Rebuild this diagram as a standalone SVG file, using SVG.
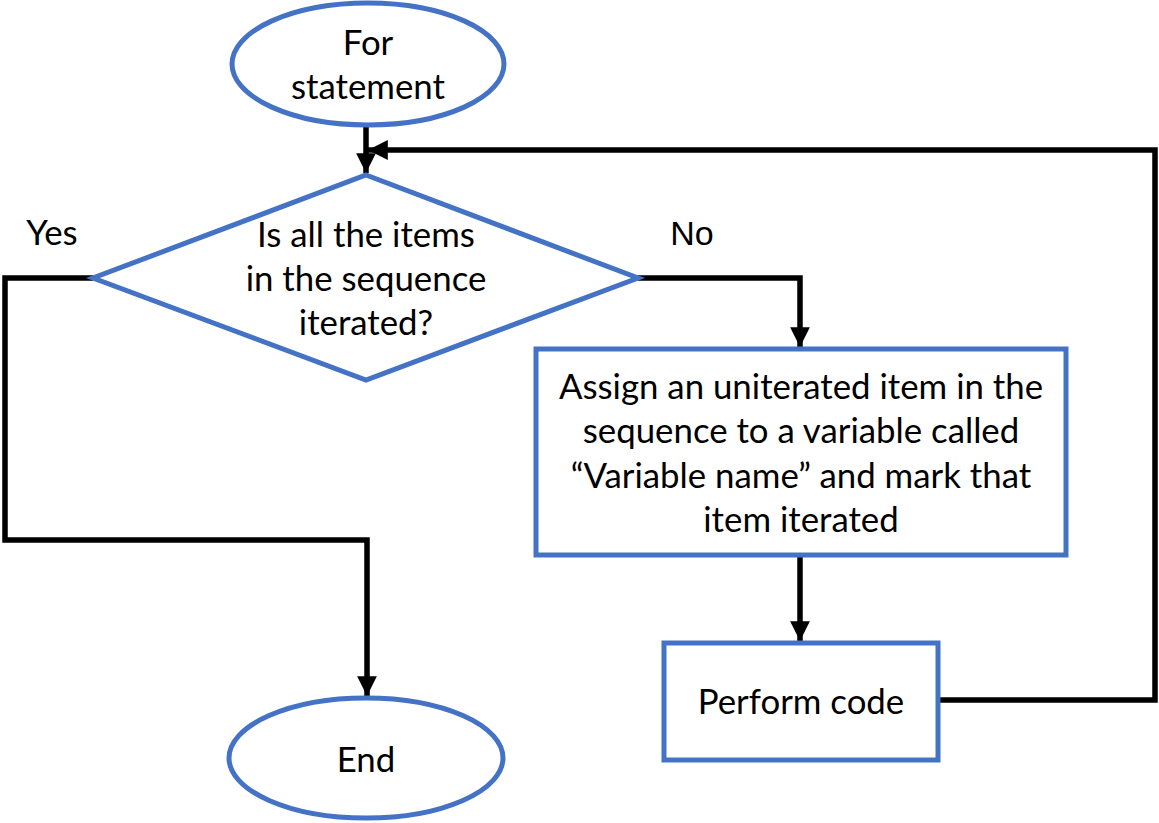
<svg xmlns="http://www.w3.org/2000/svg" width="1159" height="823" viewBox="0 0 1159 823">
<defs>
<marker id="ah" viewBox="0 0 10 10" refX="10" refY="5" markerWidth="3.6" markerHeight="3.6" orient="auto" markerUnits="strokeWidth">
<path d="M0,0 L10,5 L0,10 z" fill="#000"/>
</marker>
<style>
.shape{fill:#fff;stroke:#4472C4;stroke-width:5}
.conn{fill:none;stroke:#000;stroke-width:5.5}
.t{font-family:Lato,"Liberation Sans",sans-serif;font-size:34.8px;fill:#000;text-anchor:middle}
.a{font-family:"Liberation Sans",Arial,sans-serif;font-size:34px;fill:#000;text-anchor:middle}
</style>
</defs>
<rect width="1159" height="823" fill="#fff"/>
<g id="connectors">
<path class="conn" d="M366,125 V173" marker-end="url(#ah)"/>
<path class="conn" d="M938,700 H1155 V150 H368" marker-end="url(#ah)"/>
<path class="conn" d="M93,278 H5 V540 H367 V696" marker-end="url(#ah)"/>
<path class="conn" d="M638,278 H800 V347" marker-end="url(#ah)"/>
<path class="conn" d="M800,555 V641" marker-end="url(#ah)"/>
</g>
<g id="start">
<ellipse class="shape" cx="368" cy="64" rx="136" ry="61"/>
<text class="t" x="368" y="55">For</text>
<text class="t" x="368" y="99">statement</text>
</g>
<g id="decision">
<polygon class="shape" points="366,175 638,278 366,380 93,278"/>
<text class="t" x="366" y="247">Is all the items</text>
<text class="t" x="366" y="291">in the sequence</text>
<text class="t" x="366" y="335">iterated?</text>
</g>
<g id="assign">
<rect class="shape" x="536" y="349" width="530" height="206"/>
<text class="t" x="801" y="399">Assign an uniterated item in the</text>
<text class="t" x="801" y="443">sequence to a variable called</text>
<text class="t" x="801" y="488">“Variable name” and mark that</text>
<text class="t" x="801" y="532">item iterated</text>
</g>
<g id="perform">
<rect class="shape" x="664" y="643" width="274" height="117"/>
<text class="t" x="801" y="714">Perform code</text>
</g>
<g id="end">
<ellipse class="shape" cx="366" cy="758" rx="137" ry="60"/>
<text class="t" x="366" y="772">End</text>
</g>
<g id="labels">
<text class="t" x="52" y="245">Yes</text>
<text class="a" x="692" y="245">No</text>
</g>
</svg>
